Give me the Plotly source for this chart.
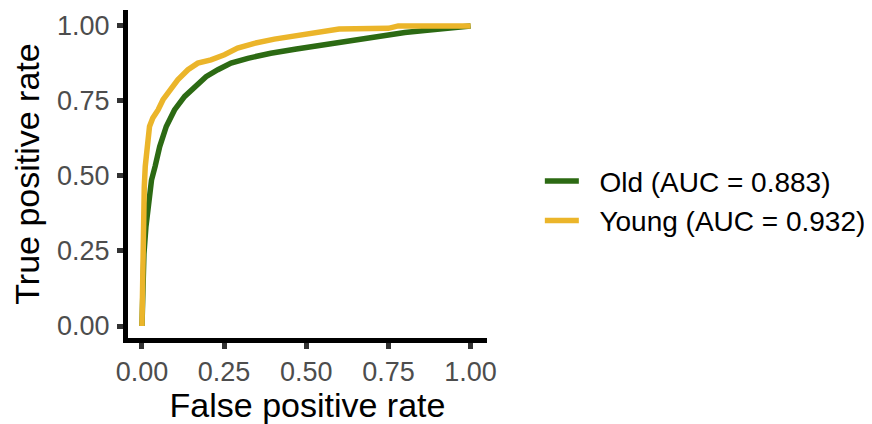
import plotly.graph_objects as go

# ROC curve points
old_fpr = [0.0, 0.002, 0.004, 0.006, 0.012, 0.019, 0.029, 0.040, 0.054, 0.074, 0.099, 0.130,
           0.160, 0.195, 0.231, 0.271, 0.322, 0.392, 0.47, 0.50, 0.56, 0.65, 0.72, 0.80,
           0.86, 0.94, 1.0]
old_tpr = [0.0, 0.10, 0.18, 0.24, 0.33, 0.40, 0.486, 0.532, 0.598, 0.665, 0.720, 0.765,
           0.798, 0.831, 0.854, 0.876, 0.892, 0.909, 0.923, 0.928, 0.94, 0.957, 0.967, 0.978,
           0.985, 0.993, 1.0]

young_fpr = [0.0, 0.002, 0.004, 0.007, 0.010, 0.016, 0.023, 0.033, 0.049, 0.064, 0.084, 0.109,
             0.140, 0.170, 0.210, 0.251, 0.291, 0.342, 0.403, 0.47, 0.55, 0.60, 0.75, 0.78, 1.0]
young_tpr = [0.0, 0.20, 0.40, 0.464, 0.532, 0.598, 0.665, 0.693, 0.720, 0.754, 0.787, 0.820,
             0.854, 0.876, 0.887, 0.904, 0.926, 0.942, 0.956, 0.968, 0.983, 0.99, 0.992, 1.0, 1.0]

names = ["Old (AUC = 0.883)", "Young (AUC = 0.932)"]
colors = ["#2C6A13", "#EBB52A"]
tick_vals = [0, 0.25, 0.5, 0.75, 1.0]
tick_text = ["0.00", "0.25", "0.50", "0.75", "1.00"]

FONT = "Liberation Sans, Arial, Helvetica, sans-serif"
PAD = "\u00a0\u00a0"

fig = go.Figure()
for xs, ys, nm, col in [(old_fpr, old_tpr, names[0], colors[0]),
                        (young_fpr, young_tpr, names[1], colors[1])]:
    fig.add_trace(go.Scatter(x=xs, y=ys, mode="lines", name=PAD + nm,
                             line=dict(color=col, width=5.5, shape="linear")))

axis_common = dict(
    showline=True, linecolor="black", linewidth=5,
    ticks="outside", ticklen=6, tickwidth=5, tickcolor="#333333",
    tickfont=dict(family=FONT, size=27, color="#4D4D4D"),
    showgrid=False, zeroline=False,
    tickvals=tick_vals, ticktext=tick_text,
)

fig.update_layout(
    width=864, height=416,
    margin=dict(l=120, r=384, t=2, b=86),
    paper_bgcolor="white", plot_bgcolor="white",
    font=dict(family=FONT, color="black"),
    xaxis=dict(range=[-0.0425, 1.05],
               title=dict(text="False positive rate", font=dict(family=FONT, size=34, color="black"), standoff=5),
               **axis_common),
    yaxis=dict(range=[-0.04, 1.053], ticklabelstandoff=2,
               title=dict(text="True positive rate", font=dict(family=FONT, size=34, color="black"), standoff=12),
               **axis_common),
    legend=dict(x=1.144, y=0.418, xanchor="left", yanchor="middle",
                font=dict(family=FONT, size=28, color="black"),
                bgcolor="rgba(0,0,0,0)", itemwidth=34),
    showlegend=True,
)

fig.write_html("out.html")
